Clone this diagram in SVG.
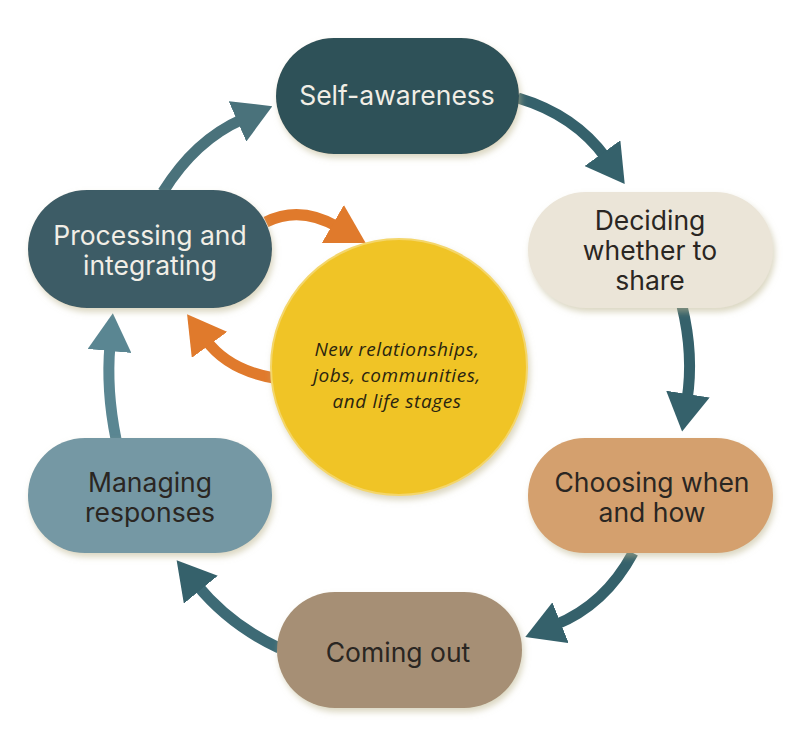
<svg xmlns="http://www.w3.org/2000/svg" width="800" height="749" viewBox="0 0 800 749">
  <style>
    .lbl { font-family: Inter, "Open Sans", "Liberation Sans", sans-serif; font-size: 26.5px; text-anchor: middle; }
    .light { fill: #f1eee6; }
    .dark { fill: #2a2622; }
    .ctr { font-family: "Open Sans", Lato, "Liberation Sans", sans-serif; font-style: italic; font-size: 19px; letter-spacing: 0.6px; fill: #2a2410; text-anchor: middle; }
    .arr { fill: none; stroke-width: 11; stroke-linecap: butt; }
  </style>
  <defs>
    <filter id="sh" x="-20%" y="-20%" width="140%" height="150%">
      <feDropShadow dx="2" dy="4" stdDeviation="3" flood-color="#bdb68f" flood-opacity="0.55"/>
    </filter>
    <marker id="hT" viewBox="0 0 38 44" markerWidth="38" markerHeight="44" refX="6" refY="22" orient="auto" markerUnits="userSpaceOnUse">
      <path d="M0,0 L38,22 L0,44 z" fill="#35616b"/>
    </marker>
    <marker id="hT2" viewBox="0 0 38 44" markerWidth="38" markerHeight="44" refX="6" refY="22" orient="auto" markerUnits="userSpaceOnUse">
      <path d="M0,0 L38,22 L0,44 z" fill="#4a727b"/>
    </marker>
    <marker id="hT3" viewBox="0 0 38 44" markerWidth="38" markerHeight="44" refX="6" refY="22" orient="auto" markerUnits="userSpaceOnUse">
      <path d="M0,0 L38,22 L0,44 z" fill="#5a8692"/>
    </marker>
    <marker id="hO" viewBox="0 0 38 44" markerWidth="38" markerHeight="44" refX="6" refY="22" orient="auto" markerUnits="userSpaceOnUse">
      <path d="M0,0 L38,22 L0,44 z" fill="#e07a2c"/>
    </marker>
  </defs>
  <rect width="800" height="749" fill="#ffffff"/>

  <g id="connectors">
    <path class="arr" stroke="#35616b" marker-end="url(#hT)" d="M518,98 Q575,115 606,158"/>
    <path class="arr" stroke="#35616b" marker-end="url(#hT)" d="M682,306 Q694,355 687,400"/>
    <path class="arr" stroke="#35616b" marker-end="url(#hT)" d="M633,553 Q605,605 555,625"/>
    <path class="arr" stroke="#3d6a75" marker-end="url(#hT)" d="M279,648 Q230,625 197,585"/>
    <path class="arr" stroke="#5a8692" marker-end="url(#hT3)" d="M116,439 Q106,390 110,345"/>
    <path class="arr" stroke="#4a727b" marker-end="url(#hT2)" d="M163,192 Q195,140 243,119"/>
    <path class="arr" stroke="#e07a2c" marker-end="url(#hO)" d="M266,222 Q300,205 338,227"/>
    <path class="arr" stroke="#e07a2c" marker-end="url(#hO)" d="M274,378 Q228,370 206,340"/>
  </g>

  <g id="center">
    <circle cx="399" cy="367" r="128" fill="#f0c428" stroke="#f4d66a" stroke-width="2" filter="url(#sh)"/>
    <text class="ctr" x="397" y="356">New relationships,</text>
    <text class="ctr" x="397" y="382">jobs, communities,</text>
    <text class="ctr" x="397" y="408">and life stages</text>
  </g>

  <g id="self-awareness">
    <rect x="276" y="38" width="243" height="116" rx="58" fill="#2f5158" filter="url(#sh)"/>
    <text class="lbl light" x="397" y="105">Self-awareness</text>
  </g>

  <g id="deciding">
    <rect x="528" y="192" width="245" height="116" rx="58" fill="#ebe5d8" filter="url(#sh)"/>
    <text class="lbl dark" x="650" y="230">Deciding</text>
    <text class="lbl dark" x="650" y="260">whether to</text>
    <text class="lbl dark" x="650" y="290">share</text>
  </g>

  <g id="choosing">
    <rect x="528" y="438" width="245" height="115" rx="57" fill="#d4a06e" filter="url(#sh)"/>
    <text class="lbl dark" x="652" y="492">Choosing when</text>
    <text class="lbl dark" x="652" y="522">and how</text>
  </g>

  <g id="coming-out">
    <rect x="277" y="592" width="245" height="116" rx="58" fill="#a68f75" filter="url(#sh)"/>
    <text class="lbl dark" x="398" y="662">Coming out</text>
  </g>

  <g id="managing">
    <rect x="28" y="438" width="244" height="115" rx="57" fill="#7598a4" filter="url(#sh)"/>
    <text class="lbl dark" x="150" y="492">Managing</text>
    <text class="lbl dark" x="150" y="522">responses</text>
  </g>

  <g id="processing">
    <rect x="28" y="190" width="244" height="118" rx="59" fill="#3d5c66" filter="url(#sh)"/>
    <text class="lbl light" x="150" y="245">Processing and</text>
    <text class="lbl light" x="150" y="275">integrating</text>
  </g>
</svg>
